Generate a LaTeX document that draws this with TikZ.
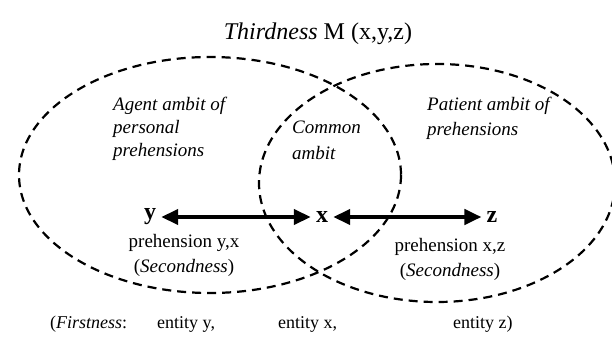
\documentclass[tikz,border=0pt]{standalone}
\usepackage{fontspec}
\setmainfont{Liberation Serif}
\usetikzlibrary{arrows.meta}

\tikzset{
  ambit/.style={line width=2.2pt, dash pattern=on 9pt off 6pt},
  ambittext/.style={anchor=north west, inner sep=0pt, align=left,
    font=\fontsize{19}{23}\selectfont\itshape},
  relata/.style={inner ysep=2pt, inner xsep=5pt, font=\fontsize{24}{26}\selectfont\bfseries},
  prehension/.style={anchor=north, inner sep=0pt, align=center,
    font=\fontsize{19}{25}\selectfont},
  firstness/.style={anchor=base west, inner sep=0pt, font=\fontsize{18}{20}\selectfont},
  link/.style={line width=4pt, {Triangle[length=17pt,width=15pt]}-{Triangle[length=17pt,width=15pt]}}
}

\begin{document}
\begin{tikzpicture}[x=1pt,y=-1pt]
 \useasboundingbox (0,0) rectangle (612,339);

 \node[anchor=base, inner sep=0pt, font=\fontsize{24}{26}\selectfont] (title) at (318,40)
   {\textit{Thirdness} M (x,y,z)};

 % the two ambits
 \draw[ambit] (210,175) ellipse [x radius=191, y radius=118];
 \draw[ambit] (437,183) ellipse [x radius=178, y radius=119];

 \node[ambittext] (agent) at (113,97) {Agent ambit of\\personal\\prehensions};
 \node[ambittext, font=\fontsize{19}{26}\selectfont\itshape] (common) at (292,121) {Common\\ambit};
 \node[ambittext, font=\fontsize{19}{25}\selectfont\itshape] (patient) at (427,97) {Patient ambit of\\prehensions};

 % Secondness: the two prehensions
 \node[relata] (y) at (150,217) {y};
 \node[relata] (x) at (322,217) {x};
 \node[relata] (z) at (492,217) {z};
 \draw[link] (y) -- (x);
 \draw[link] (x) -- (z);

 \node[prehension] (yx) at (184,234) {prehension y,x\\(\textit{Secondness})};
 \node[prehension] (xz) at (450,238) {prehension x,z\\(\textit{Secondness})};

 % Firstness line
 \node[firstness] (first) at (50,328) {(\textit{Firstness}:};
 \node[firstness] (ey) at (157,328) {entity y,};
 \node[firstness] (ex) at (278,328) {entity x,};
 \node[firstness] (ez) at (453,328) {entity z)};

\end{tikzpicture}
\end{document}
